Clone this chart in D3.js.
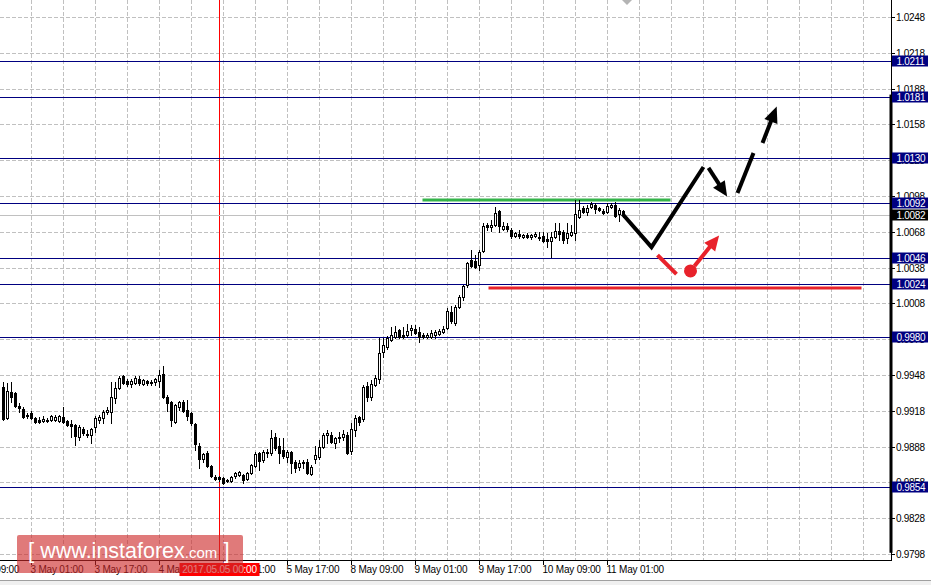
<!DOCTYPE html>
<html><head><meta charset="utf-8">
<script src="https://cdn.jsdelivr.net/npm/d3@7"></script>
<style>
body{margin:0;background:#fff;}
svg{display:block;}
text{font-family:"Liberation Sans",Arial,sans-serif;}
</style>
</head><body>
<svg id="c" width="931" height="585"></svg>
<script>
// ---------- DATA ----------
// hourly candles [open, high, low, close]
const candles = [
[.99379,.99421,.99103,.99111],[.99119,.99413,.99111,.99346],[.99337,.99421,.99253,.99295],[.99329,.99337,.99211,.99220],
[.99220,.99245,.99170,.99203],[.99195,.99211,.99119,.99128],[.99145,.99161,.99119,.99136],[.99161,.99178,.99111,.99119],
[.99119,.99128,.99077,.99086],[.99103,.99128,.99077,.99086],[.99094,.99136,.99086,.99111],[.99103,.99119,.99086,.99094],
[.99103,.99145,.99094,.99136],[.99103,.99145,.99094,.99128],[.99094,.99145,.99086,.99136],[.99128,.99211,.99077,.99086],
[.99094,.99103,.99052,.99061],[.99069,.99103,.98960,.99052],[.99061,.99069,.98893,.98968],[.98960,.99061,.98935,.99044],
[.99027,.99044,.98977,.98994],[.98985,.99019,.98960,.98977],[.98977,.99036,.98910,.99027],[.99044,.99136,.99002,.99119],
[.99103,.99145,.99077,.99128],[.99119,.99187,.99077,.99170],[.99170,.99211,.99153,.99187],[.99170,.99421,.99077,.99295],
[.99287,.99421,.99245,.99371],[.99371,.99472,.99362,.99455],[.99472,.99480,.99404,.99413],[.99430,.99446,.99388,.99404],
[.99404,.99446,.99379,.99430],[.99413,.99472,.99404,.99455],[.99446,.99472,.99396,.99413],[.99404,.99446,.99396,.99438],
[.99430,.99438,.99396,.99413],[.99413,.99438,.99396,.99421],[.99421,.99455,.99396,.99446],[.99430,.99522,.99379,.99480],
[.99488,.99555,.99287,.99295],[.99295,.99312,.99178,.99245],[.99253,.99262,.99052,.99103],[.99086,.99237,.99077,.99228],
[.99211,.99262,.99187,.99253],[.99253,.99270,.99170,.99178],[.99187,.99270,.99103,.99136],[.99161,.99170,.99061,.99077],
[.99069,.99077,.98851,.98901],[.98885,.98910,.98700,.98776],[.98776,.98826,.98751,.98817],[.98826,.98843,.98709,.98717],
[.98717,.98726,.98625,.98633],[.98625,.98642,.98600,.98608],[.98625,.98633,.98592,.98608],[.98617,.98625,.98566,.98575],
[.98600,.98608,.98583,.98592],[.98592,.98633,.98583,.98625],[.98633,.98667,.98617,.98658],[.98642,.98675,.98633,.98667],
[.98642,.98650,.98575,.98600],[.98608,.98667,.98600,.98658],[.98658,.98734,.98650,.98726],[.98717,.98834,.98709,.98817],
[.98826,.98834,.98684,.98759],[.98768,.98851,.98751,.98834],[.98826,.98859,.98792,.98834],[.98826,.99019,.98809,.98952],
[.98960,.98994,.98851,.98868],[.98885,.98952,.98742,.98826],[.98851,.98952,.98784,.98801],[.98792,.98851,.98751,.98834],
[.98834,.98843,.98658,.98742],[.98751,.98768,.98667,.98700],[.98709,.98768,.98684,.98742],[.98742,.98768,.98700,.98751],
[.98751,.98776,.98650,.98658],[.98650,.98726,.98642,.98709],[.98776,.98885,.98742,.98809],[.98792,.98935,.98776,.98876],
[.98876,.98994,.98868,.98977],[.98977,.99019,.98910,.98994],[.98977,.99002,.98910,.98918],[.98910,.98960,.98868,.98952],
[.98952,.99002,.98918,.98960],[.98960,.99019,.98935,.98985],[.98977,.99002,.98817,.98826],[.98843,.99077,.98817,.99027],
[.99019,.99145,.98968,.99119],[.99128,.99136,.99061,.99086],[.99111,.99396,.99094,.99379],[.99388,.99421,.99262,.99295],
[.99295,.99438,.99270,.99404],[.99396,.99480,.99388,.99455],[.99446,.99790,.99413,.99664],[.99673,.99790,.99631,.99731],
[.99714,.99806,.99698,.99790],[.99773,.99882,.99765,.99815],[.99798,.99890,.99790,.99840],[.99857,.99865,.99790,.99798],
[.99815,.99882,.99790,.99798],[.99815,.99907,.99798,.99849],[.99857,.99899,.99815,.99874],[.99865,.99899,.99823,.99832],
[.99840,.99882,.99756,.99798],[.99815,.99832,.99790,.99798],[.99798,.99832,.99790,.99815],[.99798,.99857,.99790,.99832],
[.99815,.99857,.99790,.99840],[.99823,.99865,.99815,.99849],[.99840,.99890,.99832,.99865],[.99874,1.00041,.99865,1.00016],
[1.00008,1.00058,.99916,.99932],[.99916,1.00066,.99899,1.00049],[1.00049,1.00150,1.00041,1.00133],[1.00133,1.00234,1.00108,1.00226],
[1.00234,1.00427,1.00217,1.00418],[1.00444,1.00527,1.00385,1.00393],[1.00435,1.00485,1.00376,1.00385],[1.00402,1.00527,1.00360,1.00510],
[1.00519,1.00754,1.00510,1.00728],[1.00737,1.00754,1.00695,1.00720],[1.00720,1.00779,1.00687,1.00737],[1.00737,1.00888,1.00728,1.00837],
[1.00854,1.00863,1.00678,1.00728],[1.00703,1.00762,1.00695,1.00728],[1.00728,1.00754,1.00687,1.00703],[1.00695,1.00712,1.00628,1.00645],
[1.00645,1.00678,1.00636,1.00670],[1.00661,1.00695,1.00628,1.00645],[1.00636,1.00661,1.00628,1.00653],[1.00653,1.00670,1.00628,1.00636],
[1.00636,1.00661,1.00620,1.00653],[1.00645,1.00678,1.00636,1.00661],[1.00636,1.00678,1.00611,1.00628],[1.00645,1.00678,1.00594,1.00603],
[1.00620,1.00670,1.00552,1.00603],[1.00603,1.00678,1.00468,1.00636],[1.00636,1.00754,1.00628,1.00687],[1.00687,1.00754,1.00611,1.00661],
[1.00678,1.00695,1.00586,1.00611],[1.00628,1.00754,1.00586,1.00670],[1.00653,1.00737,1.00645,1.00678],[1.00670,1.00946,1.00611,1.00829],
[1.00804,1.00946,1.00795,1.00863],[1.00879,1.00896,1.00837,1.00846],[1.00846,1.00904,1.00821,1.00879],[1.00888,1.00930,1.00879,1.00913],
[1.00904,1.00921,1.00837,1.00871],[1.00879,1.00888,1.00854,1.00863],[1.00854,1.00871,1.00829,1.00837],[1.00846,1.00921,1.00837,1.00896],
[1.00888,1.00921,1.00879,1.00904],[1.00904,1.00930,1.00804,1.00812],[1.00829,1.00879,1.00770,1.00863],[1.00854,1.00863,1.00804,1.00821]
];
// price axis ticks
const priceTicks = [0.9798,0.9828,0.9858,0.9888,0.9918,0.9948,0.9978,1.0008,1.0038,1.0068,1.0098,1.0128,1.0158,1.0188,1.0218,1.0248];
// time axis labels: [bar index, label]
const timeTicks = [[-9,"2 May 09:00"],[7,"3 May 01:00"],[23,"3 May 17:00"],[39,"4 May 09:00"],[55,"5 May 01:00"],[71,"5 May 17:00"],
  [87,"8 May 09:00"],[103,"9 May 01:00"],[119,"9 May 17:00"],[135,"10 May 09:00"],[151,"11 May 01:00"]];
// horizontal levels
const levels = [1.0211,1.0181,1.0130,1.0092,1.0046,1.0024,0.9980,0.9854];
const bidPrice = 1.0082;
const separatorBar = 54, separatorLabel = "2017.05.05 00:00";
// drawn analysis objects: [bar index, price]
const resistanceLine = [[104.75,1.00946],[166.75,1.00946]];
const supportLine = [[121.25,1.00209],[214.5,1.00209]];
const mainPath = [[154.75,1.00829],[162,1.00552],[175,1.01223]];
const downArrow = [[176.25,1.01215],[180.9,1.00975]];
const upDashA = [[183.5,1.01005],[187.5,1.01340]];
const upArrow = [[189.75,1.01424],[193.3,1.01730]];
const redDash = [[163.5,1.00485],[168.25,1.00326]];
const redDot = [171.75,1.00352];
const redArrow = [[172.75,1.00393],[178.9,1.00650]];
const watermark = ["[ ","www.instaforex",".com"," ]"];

// ---------- DRAW ----------
const svg = d3.select("#c");
const W = 931, H = 585, plotR = 891, plotB = 561;
const x = d3.scaleLinear().domain([0, 155]).range([3.5, 623.5]);
const y = d3.scaleLinear().domain([0.9798, 1.0248]).range([554, 17]);
const py = v => Math.round(y(v)) + 0.5;

svg.append("rect").attr("width", W).attr("height", H).attr("fill", "#fff");

const gridC = "#c0c0c0";
// horizontal grid
svg.append("g").selectAll("line").data(priceTicks).join("line")
  .attr("x1", 0).attr("x2", plotR).attr("y1", d => py(d)).attr("y2", d => py(d))
  .attr("stroke", gridC).attr("stroke-dasharray", "4,2");
// vertical grid (every 8 bars)
const vgrid = d3.range(-1, 220, 8);
svg.append("g").selectAll("line").data(vgrid).join("line")
  .attr("x1", d => x(d)).attr("x2", d => x(d)).attr("y1", 0).attr("y2", plotB)
  .attr("stroke", gridC).attr("stroke-dasharray", "4,2");

// separator
svg.append("line").attr("x1", x(separatorBar)).attr("x2", x(separatorBar)).attr("y1", 0).attr("y2", plotB)
  .attr("stroke", "#ff0000");

// level lines
svg.append("g").selectAll("line").data(levels).join("line")
  .attr("x1", 0).attr("x2", plotR).attr("y1", d => py(d)).attr("y2", d => py(d))
  .attr("stroke", "#000080");
// bid line
svg.append("line").attr("x1", 0).attr("x2", plotR).attr("y1", py(bidPrice)).attr("y2", py(bidPrice)).attr("stroke", "#c0c0c0");

// support / resistance
const seg = (pts, color, w) => svg.append("line")
  .attr("x1", x(pts[0][0])).attr("y1", y(pts[0][1])).attr("x2", x(pts[1][0])).attr("y2", y(pts[1][1]))
  .attr("stroke", color).attr("stroke-width", w);
seg(resistanceLine, "#34b34a", 3);
seg(supportLine, "#e8222b", 3);

// candles
const cg = svg.append("g");
candles.forEach((c, i) => {
  const [o, h, l, cl] = c;
  const cx = x(i);
  cg.append("line").attr("x1", cx).attr("x2", cx).attr("y1", Math.round(y(h))).attr("y2", Math.round(y(l)) + 1).attr("stroke", "#000");
  const top = Math.round(y(Math.max(o, cl))) + 0.5, bot = Math.round(y(Math.min(o, cl))) + 0.5;
  if (bot - top < 1) {
    cg.append("line").attr("x1", cx - 1.5).attr("x2", cx + 1.5).attr("y1", top).attr("y2", top).attr("stroke", "#000");
  } else {
    cg.append("rect").attr("x", cx - 1).attr("width", 2).attr("y", top).attr("height", bot - top)
      .attr("fill", cl >= o ? "#fff" : "#000").attr("stroke", "#000");
  }
});

// path + arrows
const line = d3.line().x(d => x(d[0])).y(d => y(d[1]));
svg.append("path").attr("d", line(mainPath)).attr("fill", "none").attr("stroke", "#000").attr("stroke-width", 4).attr("stroke-linejoin", "miter");
function arrow(pts, color, w, hl, hw) {
  const x1 = x(pts[0][0]), y1 = y(pts[0][1]), x2 = x(pts[1][0]), y2 = y(pts[1][1]);
  const dx = x2 - x1, dy = y2 - y1, L = Math.hypot(dx, dy), ux = dx / L, uy = dy / L;
  const bx = x2 - ux * hl, by = y2 - uy * hl;
  svg.append("line").attr("x1", x1).attr("y1", y1).attr("x2", bx + ux * 2).attr("y2", by + uy * 2).attr("stroke", color).attr("stroke-width", w);
  svg.append("path").attr("d", `M${x2},${y2}L${bx - uy * hw},${by + ux * hw}L${bx + uy * hw},${by - ux * hw}Z`).attr("fill", color);
}
arrow(downArrow, "#000", 4, 15, 7);
seg(upDashA, "#000", 4);
arrow(upArrow, "#000", 4, 16, 7);
seg(redDash, "#e8222b", 4);
svg.append("circle").attr("cx", x(redDot[0])).attr("cy", y(redDot[1])).attr("r", 6.5).attr("fill", "#e8222b");
arrow(redArrow, "#e8222b", 4, 15, 7);

// shift marker
svg.append("path").attr("d", "M622,0L632,0L627,5Z").attr("fill", "#b4b4b4");

// price axis
svg.append("line").attr("x1", plotR + 0.5).attr("x2", plotR + 0.5).attr("y1", 0).attr("y2", plotB).attr("stroke", "#000");
svg.append("rect").attr("x", 889.5).attr("width", 3).attr("y", y(1.0183)).attr("height", y(0.9799) - y(1.0183)).attr("fill", "#000");
const ax = svg.append("g");
priceTicks.forEach(t => {
  ax.append("line").attr("x1", plotR).attr("x2", plotR + 4).attr("y1", py(t)).attr("y2", py(t)).attr("stroke", "#000");
  ax.append("text").attr("x", 896).attr("y", py(t) + 3.5).attr("font-size", 10).attr("letter-spacing", -0.3).attr("fill", "#000").text(d3.format(".4f")(t));
});
const lvl = levels.map(v => ({v, bg: "#000080"})).concat([{v: bidPrice, bg: "#000"}]);
lvl.forEach(d => {
  const cy = py(d.v);
  ax.append("rect").attr("x", 892).attr("y", cy - 6).attr("width", 36).attr("height", 11).attr("fill", d.bg);
  ax.append("text").attr("x", 896.5).attr("y", cy + 3.5).attr("font-size", 10).attr("letter-spacing", -0.3).attr("fill", "#fff").text(d3.format(".4f")(d.v));
});

// time axis
svg.append("line").attr("x1", 0).attr("x2", plotR + 1).attr("y1", plotB - 0.5).attr("y2", plotB - 0.5).attr("stroke", "#000");
const tx = svg.append("g");
timeTicks.forEach(([i, lab]) => {
  tx.append("line").attr("x1", x(i)).attr("x2", x(i)).attr("y1", plotB).attr("y2", plotB + 4).attr("stroke", "#000");
  tx.append("text").attr("x", x(i) - 1).attr("y", 573).attr("font-size", 10).attr("letter-spacing", -0.2).attr("fill", "#000").text(lab);
});
svg.append("rect").attr("x", x(separatorBar) - 40).attr("y", 563).attr("width", 80).attr("height", 13).attr("fill", "#ff0000");
svg.append("text").attr("x", x(separatorBar)).attr("y", 573).attr("text-anchor", "middle").attr("font-size", 10).attr("letter-spacing", -0.2).attr("fill", "#fff").text(separatorLabel);

// bottom strip
svg.append("rect").attr("x", 0).attr("y", 580).attr("width", W).attr("height", 5).attr("fill", "#f0f0f0");
svg.append("line").attr("x1", 0).attr("x2", W).attr("y1", 580.5).attr("y2", 580.5).attr("stroke", "#a0a0a0");

// watermark
const wm = svg.append("g");
wm.append("rect").attr("x", 17).attr("y", 535).attr("width", 226).attr("height", 38).attr("rx", 2).attr("fill", "rgba(205,40,40,0.62)");
const wt = wm.append("text").attr("x", 28).attr("y", 558).attr("fill", "#fff");
wt.append("tspan").attr("font-size", 22).text(watermark[0]);
wt.append("tspan").attr("font-size", 21.5).text(watermark[1]);
wt.append("tspan").attr("font-size", 15).text(watermark[2]);
wt.append("tspan").attr("font-size", 22).text(watermark[3]);
</script>
</body></html>
